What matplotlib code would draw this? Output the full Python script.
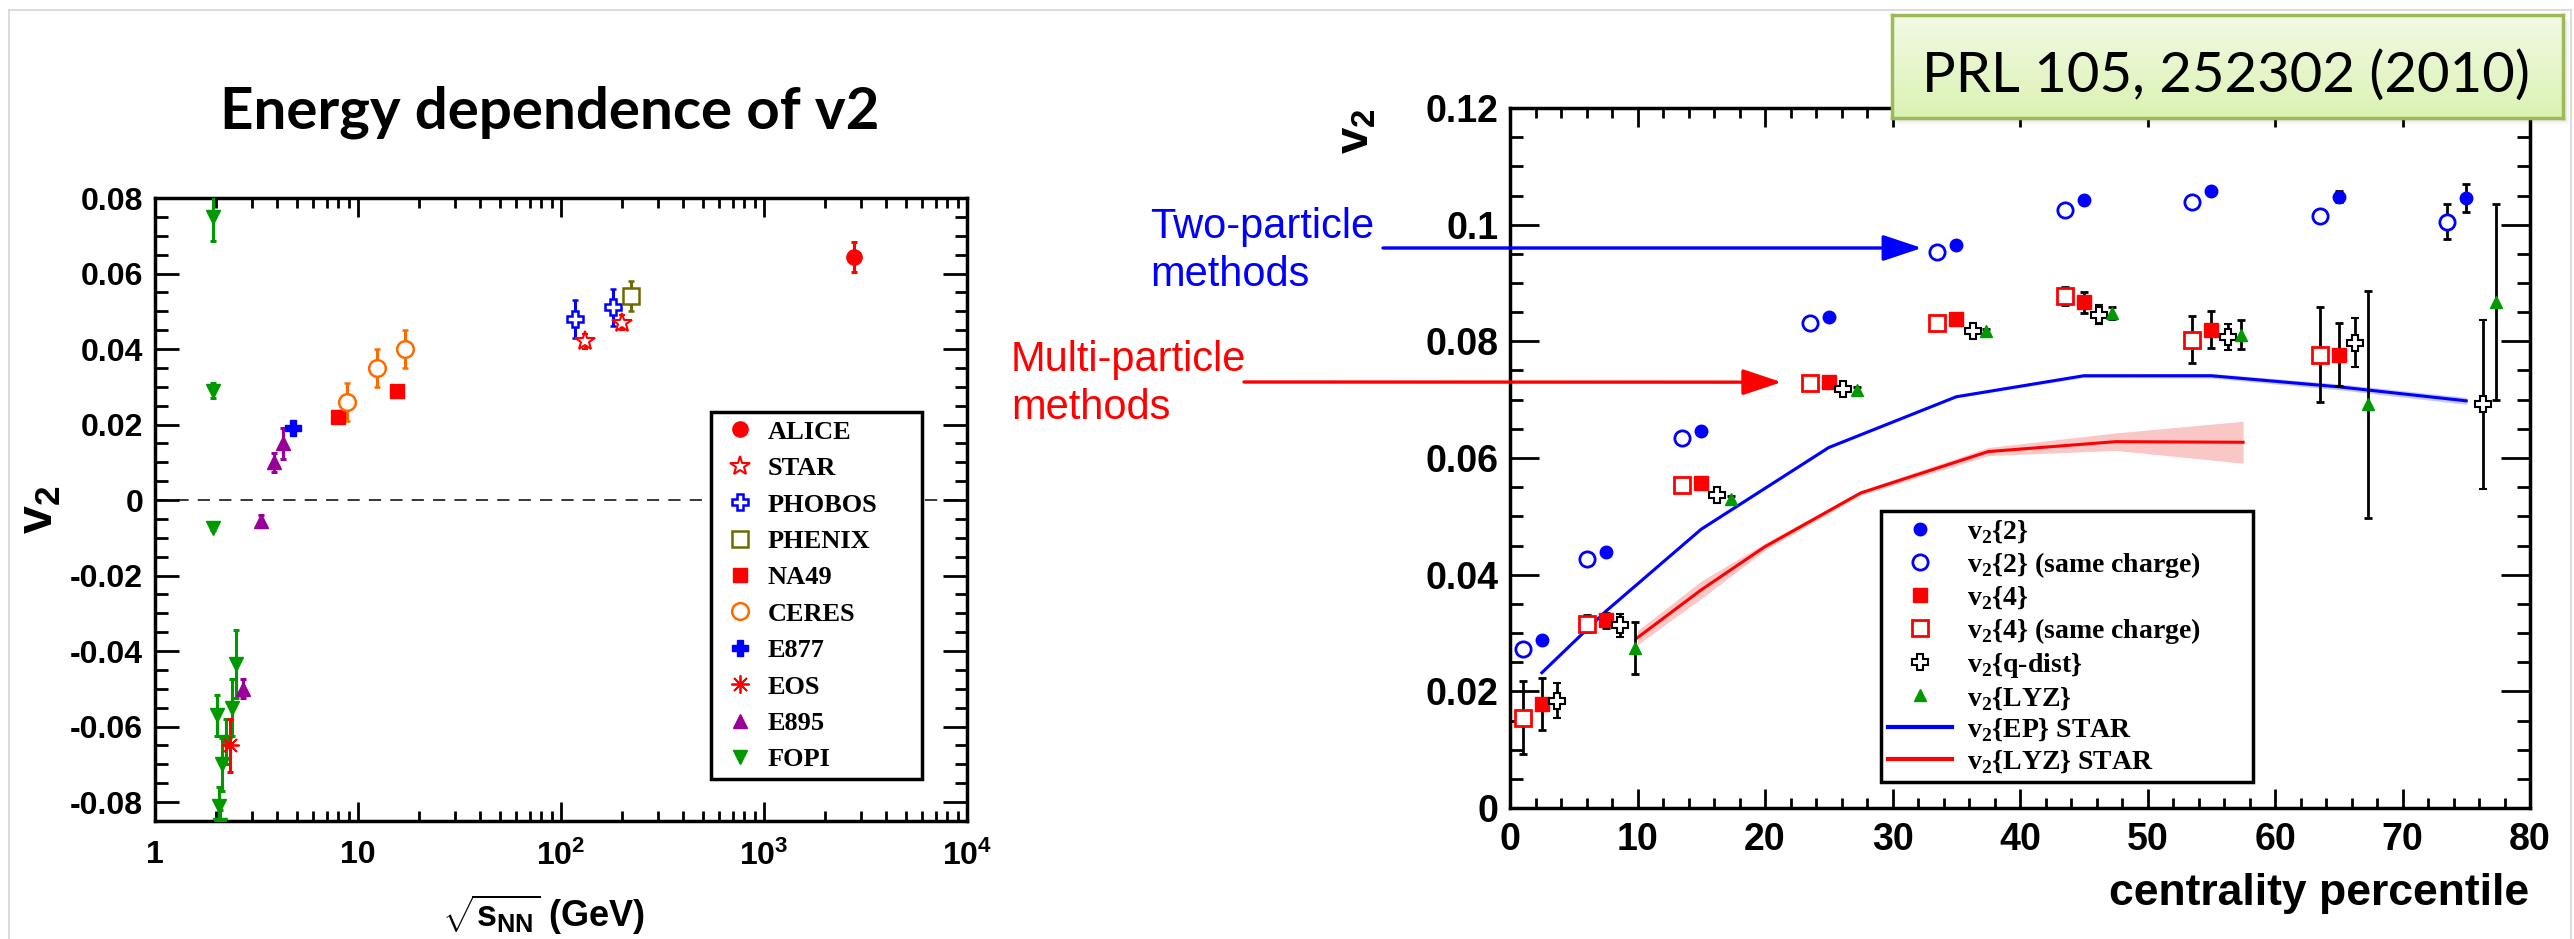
import numpy as np
import matplotlib
matplotlib.use('Agg')
import matplotlib.pyplot as plt
from matplotlib.lines import Line2D
from matplotlib.patches import Rectangle
from matplotlib.ticker import LogLocator, NullFormatter, MultipleLocator

# ---------------------------------------------------------------------------
# data : energy dependence (left)
# ---------------------------------------------------------------------------
alice_x, alice_y, alice_e = [2760], [0.0643], [0.004]
star_x, star_y, star_e = [131, 199], [0.042, 0.047], [0.002, 0.002]
phobos_x, phobos_y, phobos_e = [117, 180], [0.048, 0.051], [0.005, 0.005]
phenix_x, phenix_y, phenix_e = [220], [0.054], [0.004]
na49_x, na49_y, na49_e = [8.0, 15.5], [0.022, 0.029], [0.0005, 0.0005]
ceres_x, ceres_y, ceres_e = [8.8, 12.4, 17.1], [0.026, 0.035, 0.040], [0.005, 0.005, 0.005]
e877_x, e877_y, e877_e = [4.8], [0.019], [0.001]
eos_x, eos_y, eos_e = [2.34], [-0.065], [0.007]
e895_x = [2.70, 3.33, 3.86, 4.25]
e895_y = [-0.050, -0.0055, 0.010, 0.015]
e895_e = [0.0025, 0.0015, 0.0025, 0.004]
fopi_x = [1.93, 1.93, 1.93, 2.01, 2.07, 2.10, 2.14, 2.23, 2.40, 2.52]
fopi_y = [0.075, 0.029, -0.0075, -0.057, -0.081, -0.086, -0.070, -0.064, -0.055, -0.0435]
fopi_e = [0.0065, 0.002, 0.0005, 0.0055, 0.005, 0.004, 0.007, 0.006, 0.0075, 0.009]

left_xticks = [1, 10, 100, 1000, 10000]
left_xlabels = ['1', '10', r'$10^{2}$', r'$10^{3}$', r'$10^{4}$']
left_yticks = [-0.08, -0.06, -0.04, -0.02, 0, 0.02, 0.04, 0.06, 0.08]

# ---------------------------------------------------------------------------
# data : centrality dependence (right)
# ---------------------------------------------------------------------------
c_v22 = [2.5, 7.5, 15, 25, 35, 45, 55, 65, 75]
v22 = [0.0288, 0.0439, 0.0647, 0.0842, 0.0965, 0.1042, 0.1057, 0.1048, 0.1045]
v22_e = [0.0004, 0.0004, 0.0004, 0.0004, 0.0005, 0.0005, 0.0006, 0.0009, 0.0024]

c_v22sc = [1, 6, 13.5, 23.5, 33.5, 43.5, 53.5, 63.5, 73.5]
v22sc = [0.0272, 0.0427, 0.0634, 0.0831, 0.0953, 0.1026, 0.1039, 0.1014, 0.1005]
v22sc_e = [0.0004, 0.0004, 0.0004, 0.0004, 0.0005, 0.0005, 0.0006, 0.0010, 0.0030]

c_v24 = [2.5, 7.5, 15, 25, 35, 45, 55, 65]
v24 = [0.0178, 0.0322, 0.0557, 0.0731, 0.0838, 0.0867, 0.0820, 0.0777]
v24_e = [0.0045, 0.0013, 0.0005, 0.0005, 0.0005, 0.0018, 0.0032, 0.0054]

c_v24sc = [1, 6, 13.5, 23.5, 33.5, 43.5, 53.5, 63.5]
v24sc = [0.0155, 0.0316, 0.0553, 0.0729, 0.0831, 0.0878, 0.0803, 0.0777]
v24sc_e = [0.0062, 0.0015, 0.0005, 0.0005, 0.0005, 0.0015, 0.0040, 0.0081]

c_q = [3.7, 8.6, 16.2, 26.1, 36.3, 46.2, 56.3, 66.3, 76.3]
vq = [0.0184, 0.0313, 0.0537, 0.0719, 0.0818, 0.0846, 0.0807, 0.0798, 0.0692]
vq_e = [0.0030, 0.0020, 0.0005, 0.0005, 0.0005, 0.0017, 0.0022, 0.0042, 0.0145]

c_lyz = [9.8, 17.3, 27.2, 37.3, 47.2, 57.3, 67.3, 77.3]
vlyz = [0.0274, 0.0530, 0.0717, 0.0817, 0.0849, 0.0811, 0.0692, 0.0868]
vlyz_e = [0.0045, 0.0005, 0.0005, 0.0005, 0.0010, 0.0025, 0.0195, 0.0168]

c_ep = [2.5, 7.5, 15, 25, 35, 45, 55, 65, 75]
v_ep = [0.0232, 0.0337, 0.0478, 0.0618, 0.0705, 0.0741, 0.0741, 0.0722, 0.0698]
v_ep_band = [0.0002, 0.0002, 0.0002, 0.0002, 0.0002, 0.0003, 0.0004, 0.0005, 0.0006]

c_lyzs = [10, 15, 20, 27.5, 37.5, 47.5, 57.5]
v_lyzs = [0.0292, 0.0374, 0.0448, 0.0540, 0.0611, 0.0628, 0.0627]
v_lyzs_band = [0.0012, 0.0015, 0.0006, 0.0004, 0.0007, 0.0015, 0.0036]

right_xticks = [0, 10, 20, 30, 40, 50, 60, 70, 80]
right_yticks = [0, 0.02, 0.04, 0.06, 0.08, 0.1, 0.12]

# ---------------------------------------------------------------------------
plt.rcParams['font.family'] = 'Liberation Sans'
plt.rcParams['mathtext.fontset'] = 'custom'
plt.rcParams['mathtext.rm'] = 'Liberation Sans:bold'
plt.rcParams['mathtext.it'] = 'Liberation Sans:bold'
plt.rcParams['mathtext.bf'] = 'Liberation Sans:bold'

W, H = 2574, 939
fig = plt.figure(figsize=(W / 100, H / 100), dpi=100)


def px_axes(x0, y0, x1, y1):
    return fig.add_axes([x0 / W, 1 - y1 / H, (x1 - x0) / W, (y1 - y0) / H])


def fpx(x, y):
    return x / W, 1 - y / H


# slide border
for xs, ys in [([9, 9], [10, 939]), ([9, 2571], [10, 10]), ([2571, 2571], [10, 939])]:
    fig.add_artist(Line2D([x / W for x in xs], [1 - y / H for y in ys], color='#d6d6d6', lw=1.2))

RED, BLUE, GREEN, PURPLE, ORANGE, OLIVE = '#ff0000', '#0000ff', '#009a00', '#990099', '#ff6a00', '#6b6b00'

# ----------------------------- left panel ----------------------------------
ax1 = px_axes(155, 198, 967, 821)
ax1.set_xscale('log')
ax1.set_xlim(1, 1e4)
ax1.set_ylim(-0.085, 0.08)
ax1.axhline(0, color='black', lw=1.1, ls=(0, (8, 6)), zorder=1)

eb = dict(ls='none', elinewidth=2.2, capsize=2.5, capthick=2.2, zorder=3)
ax1.errorbar(fopi_x, fopi_y, yerr=fopi_e, fmt='v', color=GREEN, ms=10, **eb)
ax1.errorbar(e895_x, e895_y, yerr=e895_e, fmt='^', color=PURPLE, ms=10, **eb)
ax1.errorbar(eos_x, eos_y, yerr=eos_e, fmt='none', color=RED, **eb)
ax1.plot(eos_x, eos_y, ls='none', marker=(8, 2, 0), ms=13, mec=RED, mew=1.3, zorder=4)
ax1.errorbar(e877_x, e877_y, yerr=e877_e, fmt='P', color=BLUE, ms=11, **eb)
ax1.errorbar(na49_x, na49_y, yerr=na49_e, fmt='s', color=RED, ms=10, **eb)
ax1.errorbar(ceres_x, ceres_y, yerr=ceres_e, fmt='o', color=ORANGE, mfc='white', mew=1.8, ms=12, **eb)
ax1.errorbar(phobos_x, phobos_y, yerr=phobos_e, fmt='P', color=BLUE, mfc='white', mew=1.8, ms=12, **eb)
ax1.errorbar(star_x, star_y, yerr=star_e, fmt='*', color=RED, mfc='white', mew=1.5, ms=15, **eb)
ax1.errorbar(phenix_x, phenix_y, yerr=phenix_e, fmt='s', color=OLIVE, mfc='white', mew=1.8, ms=11, **eb)
ax1.errorbar(alice_x, alice_y, yerr=alice_e, fmt='o', color=RED, ms=11, **eb)

ax1.set_xticks(left_xticks, labels=left_xlabels)
ax1.xaxis.set_minor_locator(LogLocator(base=10, subs=np.arange(2, 10)))
ax1.xaxis.set_minor_formatter(NullFormatter())
ax1.set_yticks(left_yticks, labels=['%g' % t for t in left_yticks])
ax1.yaxis.set_minor_locator(MultipleLocator(0.005))
ax1.tick_params(which='both', direction='in', top=True, right=True, width=2)
ax1.tick_params(axis='y', which='major', length=17, pad=8.5)
ax1.tick_params(axis='y', which='minor', length=9)
ax1.tick_params(axis='x', which='major', length=14, pad=14)
ax1.tick_params(axis='x', which='minor', length=7)
for lab in ax1.get_xticklabels() + ax1.get_yticklabels():
    lab.set_fontsize(23)
    lab.set_fontweight('bold')
for s in ax1.spines.values():
    s.set_linewidth(2.5)

left_handles = [
    Line2D([], [], ls='none', marker='o', color=RED, ms=11),
    Line2D([], [], ls='none', marker='*', color=RED, mfc='white', mew=1.5, ms=15),
    Line2D([], [], ls='none', marker='P', color=BLUE, mfc='white', mew=1.8, ms=12),
    Line2D([], [], ls='none', marker='s', color=OLIVE, mfc='white', mew=1.8, ms=11),
    Line2D([], [], ls='none', marker='s', color=RED, ms=10),
    Line2D([], [], ls='none', marker='o', color=ORANGE, mfc='white', mew=1.8, ms=12),
    Line2D([], [], ls='none', marker='P', color=BLUE, ms=11),
    Line2D([], [], ls='none', marker=(8, 2, 0), mec=RED, mew=1.3, ms=13),
    Line2D([], [], ls='none', marker='^', color=PURPLE, ms=10),
    Line2D([], [], ls='none', marker='v', color=GREEN, ms=10),
]
left_names = ['ALICE', 'STAR', 'PHOBOS', 'PHENIX', 'NA49', 'CERES', 'E877', 'EOS', 'E895', 'FOPI']
leg1 = ax1.legend(left_handles, left_names, loc='upper left', mode='expand',
                  bbox_to_anchor=(0.685, 0.056, 0.26, 0.60), borderaxespad=0,
                  prop={'family': 'Liberation Serif', 'weight': 'bold', 'size': 19},
                  fancybox=False, edgecolor='black', framealpha=1,
                  handlelength=1.6, handletextpad=0.25, labelspacing=0.49, borderpad=0.3)
leg1.get_frame().set_linewidth(2.5)

fig.text(*fpx(40, 510), r'v$_{\mathregular{2}}$', rotation=90, ha='center', va='center',
         fontsize=36, fontweight='bold')
fig.text(*fpx(544, 927), r'$\sqrt{s_{\mathregular{NN}}}$ (GeV)', ha='center', va='baseline',
         fontsize=26, fontweight='bold')

# ----------------------------- right panel ---------------------------------
ax2 = px_axes(1510, 108, 2530, 808)
ax2.set_xlim(0, 80)
ax2.set_ylim(0, 0.12)

lo = [a - b for a, b in zip(v_lyzs, v_lyzs_band)]
hi = [a + b for a, b in zip(v_lyzs, v_lyzs_band)]
ax2.fill_between(c_lyzs, lo, hi, color='#f9b5b5', alpha=0.75, lw=0, zorder=1)
lo = [a - b for a, b in zip(v_ep, v_ep_band)]
hi = [a + b for a, b in zip(v_ep, v_ep_band)]
ax2.fill_between(c_ep, lo, hi, color='#b5b5f9', alpha=0.75, lw=0, zorder=1)
ax2.plot(c_ep, v_ep, color=BLUE, lw=2.2, zorder=2)
ax2.plot(c_lyzs, v_lyzs, color=RED, lw=2.2, zorder=2)

eb2 = dict(ls='none', ecolor='black', elinewidth=2, capsize=3, capthick=2, zorder=3)
ax2.errorbar(c_v22, v22, yerr=v22_e, fmt='o', color=BLUE, ms=9, **eb2)
ax2.errorbar(c_v22sc, v22sc, yerr=v22sc_e, fmt='o', mec=BLUE, mfc='white', mew=2, ms=11, **eb2)
ax2.errorbar(c_v24, v24, yerr=v24_e, fmt='s', color=RED, ms=10, **eb2)
ax2.errorbar(c_v24sc, v24sc, yerr=v24sc_e, fmt='s', mec=RED, mfc='white', mew=2, ms=11, **eb2)
ax2.errorbar(c_q, vq, yerr=vq_e, fmt='P', mec='black', mfc='white', mew=1.5, ms=11, **eb2)
ax2.errorbar(c_lyz, vlyz, yerr=vlyz_e, fmt='^', color=GREEN, ms=9, **eb2)

ax2.set_xticks(right_xticks, labels=['%g' % t for t in right_xticks])
ax2.set_yticks(right_yticks, labels=['%g' % t for t in right_yticks])
ax2.xaxis.set_minor_locator(MultipleLocator(2))
ax2.yaxis.set_minor_locator(MultipleLocator(0.005))
ax2.tick_params(which='both', direction='in', top=True, right=True, width=2)
ax2.tick_params(axis='y', which='major', length=21, pad=8.5)
ax2.tick_params(axis='y', which='minor', length=9.5)
ax2.tick_params(axis='x', which='major', length=14, pad=10)
ax2.tick_params(axis='x', which='minor', length=7)
for lab in ax2.get_xticklabels() + ax2.get_yticklabels():
    lab.set_fontsize(27)
    lab.set_fontweight('bold')
for s in ax2.spines.values():
    s.set_linewidth(2.5)

right_handles = [
    Line2D([], [], ls='none', marker='o', color=BLUE, ms=9),
    Line2D([], [], ls='none', marker='o', mec=BLUE, mfc='white', mew=2, ms=11),
    Line2D([], [], ls='none', marker='s', color=RED, ms=10),
    Line2D([], [], ls='none', marker='s', mec=RED, mfc='white', mew=2, ms=11),
    Line2D([], [], ls='none', marker='P', mec='black', mfc='white', mew=1.5, ms=11),
    Line2D([], [], ls='none', marker='^', color=GREEN, ms=9),
    Line2D([], [], color=BLUE, lw=3),
    Line2D([], [], color=RED, lw=3),
]
sub = r'v$_{\mathregular{2}}$'
right_names = [sub + '{2}', sub + '{2} (same charge)', sub + '{4}', sub + '{4} (same charge)',
               sub + '{q-dist}', sub + '{LYZ}', sub + '{EP} STAR', sub + '{LYZ} STAR']
leg2 = ax2.legend(right_handles, right_names, loc='upper left', mode='expand',
                  bbox_to_anchor=(0.3637, 0.0343, 0.3647, 0.39), borderaxespad=0,
                  prop={'family': 'Liberation Serif', 'weight': 'bold', 'size': 20},
                  fancybox=False, edgecolor='black', framealpha=1,
                  handlelength=2.3, handletextpad=0.55, labelspacing=0.17, borderpad=0.25)
leg2.get_frame().set_linewidth(2.5)

fig.text(*fpx(1356, 108), r'v$_{\mathregular{2}}$', rotation=90, ha='center', va='top',
         fontsize=34, fontweight='bold')
fig.text(*fpx(2529, 905), 'centrality percentile', ha='right', va='baseline',
         fontsize=32, fontweight='bold')

# arrows and method labels
fig.text(*fpx(1150, 238), 'Two-particle', color=BLUE, fontsize=30, va='baseline')
fig.text(*fpx(1150, 286), 'methods', color=BLUE, fontsize=30, va='baseline')
fig.text(*fpx(1011, 371), 'Multi-particle', color=RED, fontsize=30, va='baseline')
fig.text(*fpx(1011, 419), 'methods', color=RED, fontsize=30, va='baseline')
ax2.annotate('', xy=(32.3, 0.096), xycoords='data', xytext=(1383, H - 248), textcoords='figure pixels',
             arrowprops=dict(arrowstyle='-|>,head_length=1.2,head_width=0.4', color=BLUE, lw=2.4,
                             mutation_scale=20, shrinkA=0, shrinkB=0), annotation_clip=False)
ax2.annotate('', xy=(21.3, 0.073), xycoords='data', xytext=(1244, H - 382), textcoords='figure pixels',
             arrowprops=dict(arrowstyle='-|>,head_length=1.2,head_width=0.4', color=RED, lw=2.4,
                             mutation_scale=20, shrinkA=0, shrinkB=0), annotation_clip=False)

# ----------------------------- title / reference box -----------------------
renderer = fig.canvas.get_renderer()


def fit_text(t, width):
    w = t.get_window_extent(renderer).width
    t.set_fontsize(t.get_fontsize() * width / w)


title = fig.text(*fpx(550, 128), 'Energy dependence of v2', ha='center', va='baseline',
                 fontsize=44, fontweight='bold', family='Lato')
fit_text(title, 660)

# soft shadow
for k, a in zip([8, 6, 4], [0.06, 0.09, 0.12]):
    fig.add_artist(Rectangle(fpx(1892 + k - 2, 118 + k - 2), (2563 - 1892) / W, (118 - 15) / H,
                             transform=fig.transFigure, color='#777777', alpha=a, lw=0, zorder=5))
axb = px_axes(1892, 15, 2563, 118)
axb.set_zorder(6)
grad = np.linspace(0, 1, 100).reshape(-1, 1)
top_c = np.array([0.95, 0.98, 0.90])
bot_c = np.array([0.86, 0.95, 0.70])
img = top_c * (1 - grad[..., None]) + bot_c * grad[..., None]
axb.imshow(img, aspect='auto', extent=(0, 1, 0, 1))
axb.set_xticks([])
axb.set_yticks([])
for s in axb.spines.values():
    s.set_color('#9bbb59')
    s.set_linewidth(2.5)
prl = fig.text(*fpx(2226, 92), 'PRL 105, 252302 (2010)', ha='center', va='baseline',
               fontsize=40, family='Lato', zorder=7)
fit_text(prl, 607)

fig.savefig('out.png', dpi=100)
